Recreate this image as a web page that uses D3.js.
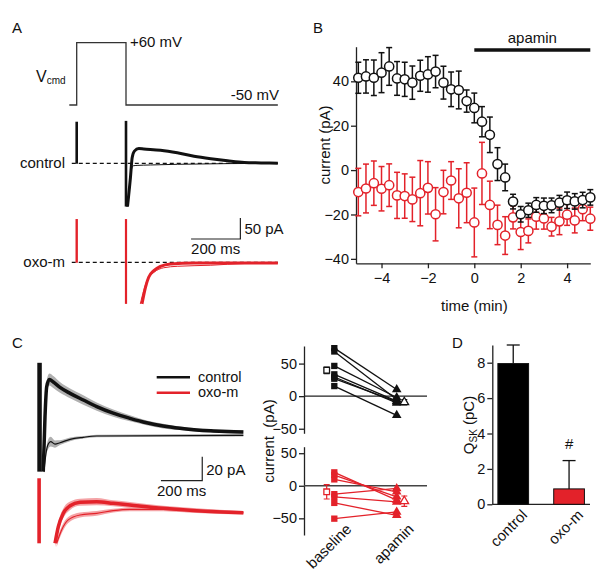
<!DOCTYPE html>
<html>
<head>
<meta charset="utf-8">
<script src="https://cdn.jsdelivr.net/npm/d3@7"></script>
<style>
  body { margin: 0; background: #fff; }
  svg { display: block; font-family: "Liberation Sans", Arial, Helvetica, sans-serif; }
</style>
</head>
<body>
<svg id="fig" width="600" height="578"></svg>
<script>
// ---------- data ----------
// panel A: command step (ms from step onset, mV)
const vcmdT = [-30, 0, 0, 200, 200, 816];
const vcmdV = [-50, -50, 60, 60, -50, -50];

// panel A: tail currents (ms, pA)
const ctlThickT = [206, 218, 225, 234, 252, 272, 340, 408, 476, 544, 612, 680, 748, 816];
const ctlThick = [-103, -34, 13, 29, 35, 34, 31, 25, 17, 11, 6, 2, 1, 0];
const ctlThinT = [206, 215, 220, 229, 245, 299, 408, 816];
const ctlThin = [-103, -58, -22, -6, -5, -4, -2.4, 0];
const oxoThickT = [265, 279, 292, 313, 340, 381, 476, 600, 816];
const oxoThick = [-99, -59.5, -35.7, -19.8, -9.5, -3.8, -1.4, -1.5, -1.5];
const oxoThinT = [258, 272, 288, 313, 353, 408, 544, 680, 816];
const oxoThin = [-99, -67, -39.5, -24, -13, -9.5, -7, -3, -2.4];

// panel B: time course (min, pA)
const timeMin = [-5, -4.67, -4.33, -4, -3.67, -3.33, -3, -2.67, -2.33, -2, -1.67, -1.33, -1, -0.67, -0.33, 0,
  0.33, 0.67, 1, 1.33, 1.67, 2, 2.33, 2.67, 3, 3.33, 3.67, 4, 4.33, 4.67, 5];
const ctlMean = [41.6, 42.2, 41.6, 43.9, 46.7, 41.3, 40.9, 39.4, 42.5, 43.1, 44.4, 39.4, 36.4, 36.1, 31.1, 28,
  21.8, 15.9, 2.7, -3.3, -14.2, -19.9, -18.1, -15.7, -16.1, -15.9, -14.7, -13.6, -14.1, -13.5, -12.3];
const ctlSem = [7, 7.5, 8, 9, 8.5, 7.6, 7.7, 7.5, 7, 8, 7.3, 7.4, 7.8, 8.5, 5, 6.7,
  6.8, 8, 7.4, 6, 3.3, 3.5, 3.2, 3.3, 3.5, 3.3, 3.3, 3.7, 3.5, 3.5, 3.5];
const oxoMean = [-9.9, -8.3, -5.9, -8.4, -6.8, -11.4, -11.7, -13.2, -10.4, -8, -19.9, -9.9, -4.7, -12.7, -10.2, -23.6,
  -1.5, -15.7, -24.7, -29.5, -21.3, -27.9, -27.4, -21, -21.8, -25.5, -23.1, -20.1, -22.7, -17.6, -21.9];
const oxoSem = [10.7, 11, 10, 10, 9.6, 10.4, 10, 10, 14.7, 11.8, 12, 9.8, 8.5, 13.3, 13.5, 15.5,
  14, 10.7, 8.9, 8.5, 5.2, 7.9, 5.4, 5.6, 4.8, 4.2, 6, 4.8, 5.6, 5.2, 5.2];

// panel C left: averaged traces (ms, pA) with sem
const cCtlT = [22, 30.5, 38.7, 51.5, 70.7, 103, 152, 216, 281, 361, 442, 523, 603, 684, 765, 846, 991];
const cCtl = [-29.7, 16, 41, 47, 45, 40.5, 35.5, 30, 24.5, 19, 14.7, 11, 8.3, 6.4, 5, 4.2, 3.3];
const cCtlSem = [2, 4, 5, 5, 5, 4.5, 4, 4, 3.5, 3, 2.5, 2, 2, 1.5, 1.5, 1.5, 1.5];
const cCtlApaT = [25.7, 35.4, 46.5, 58, 79, 103, 152, 216, 281, 991];
const cCtlApa = [-29.7, -14.4, -6.7, -4.7, -6.7, -5.6, -2.8, -1.1, 0, 0.6];
const cCtlApaSem = [2, 3, 4, 4, 3, 2, 1.5, 1, 1, 1];
const cOxoT = [79, 95, 119, 152, 200, 281, 361, 442, 603, 765, 991];
const cOxo = [-25.5, -11.7, -0.5, 5.8, 8.7, 9.2, 7.8, 6.4, 3.7, 1.7, 0];
const cOxoSem = [3, 4, 4, 3.5, 3, 3, 2.5, 2.5, 2, 2, 1.5];
const cOxoApaT = [87, 111, 143, 200, 281, 361, 442, 603, 765, 991];
const cOxoApa = [-25.5, -14.4, -6, -1.9, -0.5, 1.7, 2.8, 2.8, 1.7, 0];
const cOxoApaSem = [3, 3, 2.5, 2, 2, 1.5, 1.5, 1.5, 1.5, 1];

// panel C right: paired cells (pA)
const pairGroups = ["baseline", "apamin"];
const ctlBase = [73.7, 68.6, 46.4, 33.5, 29.4, 26.8, 15.5];
const ctlApa = [10.3, -5, -2, -7.7, -10.3, -8.5, -29.4];
const oxoBase = [20.6, 16.5, 9.8, -12.9, -17, -26.3, -50.5];
const oxoApa = [-22, -17, -9.3, -4.1, -24.7, -45.4, -40.2];
const ctlPairMean = [39.7, -9.3], ctlPairSem = [5, 4];
const oxoPairMean = [-9.3, -23.7], oxoPairSem = [11, 8];

// panel D: charge
const qGroups = ["control", "oxo-m"];
const qMean = [7.95, 0.87];
const qSem = [1.05, 1.6];

// ---------- style ----------
const RED = "#e3222a";
const PINK = "#f4a3a6";
const GREY = "#b0b0b0";
const FS = 15;

const svg = d3.select("#fig");
const zip = (a, b) => a.map((v, i) => [v, b[i]]);

function txt(g, x, y, s, anchor, size) {
  return g.append("text").attr("x", x).attr("y", y).attr("text-anchor", anchor || "start")
    .attr("font-size", size || FS).attr("fill", "#111").text(s);
}

// ---------- panel A ----------
const gA = svg.append("g");
txt(gA, 12, 33, "A");
const xA = d3.scaleLinear().domain([0, 200]).range([76.7, 126]);
const yV = d3.scaleLinear().domain([-50, 60]).range([105, 42.7]);
const yCtl = d3.scaleLinear().domain([0, 50]).range([163.3, 142.3]);
const yOxo = d3.scaleLinear().domain([0, 50]).range([262.3, 241.3]);

gA.append("path").datum(zip(vcmdT, vcmdV))
  .attr("d", d3.line().x(d => xA(d[0])).y(d => yV(d[1])))
  .attr("fill", "none").attr("stroke", "#333").attr("stroke-width", 1.3);
txt(gA, 130, 47, "+60 mV");
txt(gA, 279, 100, "-50 mV", "end");
const vt = txt(gA, 36, 82, "V", "start", 16);
vt.append("tspan").attr("font-size", 10).attr("dy", 2).text("cmd");

function trace(g, scaleY, T, V, color, w) {
  g.append("path").datum(zip(T, V))
    .attr("d", d3.line().x(d => xA(d[0])).y(d => scaleY(d[1])).curve(d3.curveMonotoneX))
    .attr("fill", "none").attr("stroke", color).attr("stroke-width", w)
    .attr("stroke-linejoin", "round");
}
function vbar(g, x, y1, y2, color, w) {
  g.append("line").attr("x1", x).attr("x2", x).attr("y1", y1).attr("y2", y2)
    .attr("stroke", color).attr("stroke-width", w);
}

// control
gA.append("line").attr("x1", xA(-20)).attr("x2", xA(816)).attr("y1", yCtl(0)).attr("y2", yCtl(0))
  .attr("stroke", "#111").attr("stroke-width", 1.2).attr("stroke-dasharray", "4,3");
vbar(gA, xA(0), yCtl(99), yCtl(-1), "#111", 2.6);
vbar(gA, xA(200), yCtl(101), yCtl(-103), "#111", 2.6);
trace(gA, yCtl, ctlThinT, ctlThin, "#111", 1);
trace(gA, yCtl, ctlThickT, ctlThick, "#111", 3);
txt(gA, 65, 168, "control", "end");

// oxo-m
gA.append("line").attr("x1", xA(-20)).attr("x2", xA(816)).attr("y1", yOxo(0)).attr("y2", yOxo(0))
  .attr("stroke", "#111").attr("stroke-width", 1.2).attr("stroke-dasharray", "4,3");
vbar(gA, xA(0), yOxo(103), yOxo(-1), RED, 2.4);
vbar(gA, xA(200), yOxo(103), yOxo(-99), RED, 2.2);
trace(gA, yOxo, oxoThinT, oxoThin, RED, 1);
trace(gA, yOxo, oxoThickT, oxoThick, RED, 3);
txt(gA, 65, 267, "oxo-m", "end");

// scale bar A
gA.append("path")
  .attr("d", `M${xA(464)},${yOxo(55.5)}H${xA(664)}V${yOxo(105.5)}`)
  .attr("fill", "none").attr("stroke", "#222").attr("stroke-width", 1.2);
txt(gA, xA(664) + 4, 234, "50 pA");
txt(gA, xA(564), 254, "200 ms", "middle");

// ---------- panel B ----------
const gB = svg.append("g");
txt(gB, 313, 33, "B");
const xB = d3.scaleLinear().domain([-5.1, 5]).range([356, 590.3]);
const yB = d3.scaleLinear().domain([-42, 55.6]).range([263.3, 46.7]);

const axB = gB.append("g").attr("transform", "translate(0,263.3)")
  .call(d3.axisBottom(xB).tickValues([-4, -2, 0, 2, 4]).tickSize(5).tickSizeOuter(0).tickPadding(4).tickFormat(d3.format("d")));
const ayB = gB.append("g").attr("transform", "translate(356,0)")
  .call(d3.axisLeft(yB).tickValues([-40, -20, 0, 20, 40]).tickSize(5).tickSizeOuter(0).tickPadding(2));
[axB, ayB].forEach(a => {
  a.selectAll("path,line").attr("stroke", "#222").attr("stroke-width", 1.3);
  a.selectAll("text").attr("font-size", 14.5).attr("fill", "#111").attr("font-family", null);
});
txt(gB, xB(0), 311, "time (min)", "middle");
txt(gB, 0, 0, "current (pA)", "middle").attr("transform", "translate(330,145) rotate(-90)");

gB.append("line").attr("x1", xB(0)).attr("x2", xB(5)).attr("y1", 50).attr("y2", 50)
  .attr("stroke", "#111").attr("stroke-width", 3.5);
txt(gB, xB(2.5), 43, "apamin", "middle");

function series(mean, sem, color) {
  const g = gB.append("g").attr("stroke", color).attr("stroke-width", 1.5);
  timeMin.forEach((t, i) => {
    const x = xB(t), lo = yB(mean[i] - sem[i]), hi = yB(mean[i] + sem[i]);
    g.append("line").attr("x1", x).attr("x2", x).attr("y1", lo).attr("y2", hi);
    g.append("line").attr("x1", x - 3).attr("x2", x + 3).attr("y1", lo).attr("y2", lo);
    g.append("line").attr("x1", x - 3).attr("x2", x + 3).attr("y1", hi).attr("y2", hi);
  });
  g.selectAll("circle").data(mean).join("circle")
    .attr("cx", (d, i) => xB(timeMin[i])).attr("cy", d => yB(d)).attr("r", 4.6)
    .attr("fill", "#fff").attr("stroke", color);
}
series(oxoMean, oxoSem, RED);
series(ctlMean, ctlSem, "#111");

// ---------- panel C (traces) ----------
const gC = svg.append("g");
txt(gC, 12, 348, "C");
const xC = d3.scaleLinear().domain([0, 200]).range([38.7, 80]);
const yCb = d3.scaleLinear().domain([0, 20]).range([436, 412]);
const yCr = d3.scaleLinear().domain([0, 20]).range([512.7, 488.7]);

function band(scaleY, T, M, S, fill) {
  gC.append("path").datum(T.map((t, i) => [t, M[i], S[i]]))
    .attr("d", d3.area().x(d => xC(d[0])).y0(d => scaleY(d[1] - d[2])).y1(d => scaleY(d[1] + d[2])).curve(d3.curveMonotoneX))
    .attr("fill", fill).attr("stroke", "none");
}
function ctrace(scaleY, T, M, color, w) {
  gC.append("path").datum(zip(T, M))
    .attr("d", d3.line().x(d => xC(d[0])).y(d => scaleY(d[1])).curve(d3.curveMonotoneX))
    .attr("fill", "none").attr("stroke", color).attr("stroke-width", w).attr("stroke-linejoin", "round");
}
band(yCb, cCtlT, cCtl, cCtlSem, GREY);
band(yCb, cCtlApaT, cCtlApa, cCtlApaSem, GREY);
gC.append("rect").attr("x", 37.3).attr("width", 4.5).attr("y", yCb(61)).attr("height", yCb(-29.7) - yCb(61)).attr("fill", "#111");
ctrace(yCb, cCtlApaT, cCtlApa, "#111", 1.2);
ctrace(yCb, cCtlT, cCtl, "#111", 3.5);

band(yCr, cOxoT, cOxo, cOxoSem, PINK);
band(yCr, cOxoApaT, cOxoApa, cOxoApaSem, PINK);
gC.append("rect").attr("x", 37.3).attr("width", 3.6).attr("y", yCr(28.7)).attr("height", yCr(-25.5) - yCr(28.7)).attr("fill", RED);
ctrace(yCr, cOxoApaT, cOxoApa, RED, 1.2);
ctrace(yCr, cOxoT, cOxo, RED, 3.5);

// legend
gC.append("line").attr("x1", 156.7).attr("x2", 190).attr("y1", 377.3).attr("y2", 377.3).attr("stroke", "#111").attr("stroke-width", 2.5);
gC.append("line").attr("x1", 156.7).attr("x2", 190).attr("y1", 392.7).attr("y2", 392.7).attr("stroke", RED).attr("stroke-width", 2.5);
txt(gC, 198, 381.5, "control", "start", 14.5);
txt(gC, 198, 397, "oxo-m", "start", 14.5);

// scale bar C
gC.append("path")
  .attr("d", `M${xC(592)},${yCb(-37.25)}H${xC(792)}V${yCb(-17.25)}`)
  .attr("fill", "none").attr("stroke", "#222").attr("stroke-width", 1.2);
txt(gC, xC(792) + 4, 475, "20 pA");
txt(gC, xC(692), 496, "200 ms", "middle");

// ---------- panel C (paired) ----------
const gP = svg.append("g");
const xP = d3.scalePoint().domain(pairGroups).range([334.3, 396.7]);
const yPu = d3.scaleLinear().domain([-57, 77]).range([433.3, 346]);
const yPl = d3.scaleLinear().domain([-75.6, 60]).range([535, 446.7]);

function pairPanel(scaleY, base, apa, mean, sem, color, zeroCol) {
  const ay = gP.append("g").attr("transform", "translate(304,0)")
    .call(d3.axisLeft(scaleY).tickValues([-50, 0, 50]).tickSize(5).tickSizeOuter(0).tickPadding(2));
  ay.selectAll("path,line").attr("stroke", "#222").attr("stroke-width", 1.3);
  ay.selectAll("text").attr("font-size", 14.5).attr("fill", "#111").attr("font-family", null);
  gP.append("line").attr("x1", 304).attr("x2", 427).attr("y1", scaleY(0)).attr("y2", scaleY(0))
    .attr("stroke", zeroCol).attr("stroke-width", 1.3);
  const x0 = xP("baseline"), x1 = xP("apamin");
  base.forEach((b, i) => {
    gP.append("line").attr("x1", x0).attr("x2", x1).attr("y1", scaleY(b)).attr("y2", scaleY(apa[i]))
      .attr("stroke", color).attr("stroke-width", 1.3);
  });
  gP.selectAll(null).data(base).join("path")
    .attr("transform", d => `translate(${x0},${scaleY(d)})`)
    .attr("d", d3.symbol(d3.symbolSquare, 40)).attr("fill", color);
  gP.selectAll(null).data(apa).join("path")
    .attr("transform", d => `translate(${x1},${scaleY(d)})`)
    .attr("d", d3.symbol(d3.symbolTriangle, 40)).attr("fill", color);
  // means
  const mx = [x0 - 7.6, x1 + 7.6];
  mean.forEach((m, i) => {
    const lo = scaleY(m - sem[i]), hi = scaleY(m + sem[i]);
    gP.append("path").attr("d", `M${mx[i]},${lo}V${hi}M${mx[i] - 3},${lo}h6M${mx[i] - 3},${hi}h6`)
      .attr("stroke", color).attr("stroke-width", 1.2).attr("fill", "none");
    gP.append("path").attr("transform", `translate(${mx[i]},${scaleY(m)})`)
      .attr("d", d3.symbol(i === 0 ? d3.symbolSquare : d3.symbolTriangle, 32))
      .attr("fill", "#fff").attr("stroke", color).attr("stroke-width", 1.3);
  });
}
pairPanel(yPu, ctlBase, ctlApa, ctlPairMean, ctlPairSem, "#111", "#222");
pairPanel(yPl, oxoBase, oxoApa, oxoPairMean, oxoPairSem, RED, "#444");

gP.append("text").attr("font-size", FS).attr("fill", "#111").attr("text-anchor", "middle")
  .attr("transform", "translate(274,441) rotate(-90)").style("white-space", "pre").text("current  (pA)");
pairGroups.forEach(g => {
  gP.append("text").attr("font-size", FS).attr("fill", "#111").attr("text-anchor", "end")
    .attr("transform", `translate(${xP(g) + 18},530) rotate(-45)`).text(g);
});

// ---------- panel D ----------
const gD = svg.append("g");
txt(gD, 452, 348, "D");
const xD = d3.scaleBand().domain(qGroups).range([492.3, 590]).paddingInner(0.45).paddingOuter(0.1);
const yD = d3.scaleLinear().domain([0, 9]).range([504.3, 345]);

const ayD = gD.append("g").attr("transform", "translate(492.3,0)")
  .call(d3.axisLeft(yD).tickValues([0, 2, 4, 6, 8]).tickSize(5).tickSizeOuter(0).tickPadding(2));
ayD.selectAll("path,line").attr("stroke", "#222").attr("stroke-width", 1.3);
ayD.selectAll("text").attr("font-size", 14.5).attr("fill", "#111").attr("font-family", null);
gD.append("line").attr("x1", 492.3).attr("x2", 590).attr("y1", yD(0)).attr("y2", yD(0))
  .attr("stroke", "#222").attr("stroke-width", 1.3);

qGroups.forEach((g, i) => {
  const x = xD(g), w = xD.bandwidth(), cx = x + w / 2;
  gD.append("line").attr("x1", cx).attr("x2", cx).attr("y1", yD(qMean[i])).attr("y2", yD(qMean[i] + qSem[i]))
    .attr("stroke", "#111").attr("stroke-width", 1.3);
  gD.append("line").attr("x1", cx - 6.5).attr("x2", cx + 6.5).attr("y1", yD(qMean[i] + qSem[i])).attr("y2", yD(qMean[i] + qSem[i]))
    .attr("stroke", "#111").attr("stroke-width", 1.3);
  gD.append("rect").attr("x", x).attr("width", w).attr("y", yD(qMean[i])).attr("height", yD(0) - yD(qMean[i]))
    .attr("fill", i === 0 ? "#000" : RED).attr("stroke", "#111").attr("stroke-width", 1);
  gD.append("text").attr("font-size", FS).attr("fill", "#111").attr("text-anchor", "end")
    .attr("transform", `translate(${cx + 15},516) rotate(-45)`).text(g);
});
txt(gD, xD("oxo-m") + xD.bandwidth() / 2, 449, "#", "middle");
const qt = gD.append("text").attr("font-size", FS).attr("fill", "#111").attr("text-anchor", "middle")
  .attr("transform", "translate(474,425) rotate(-90)");
qt.append("tspan").text("Q");
qt.append("tspan").attr("font-size", 10).attr("dy", 3).text("SK");
qt.append("tspan").attr("dy", -3).text(" (pC)");
</script>
</body>
</html>
